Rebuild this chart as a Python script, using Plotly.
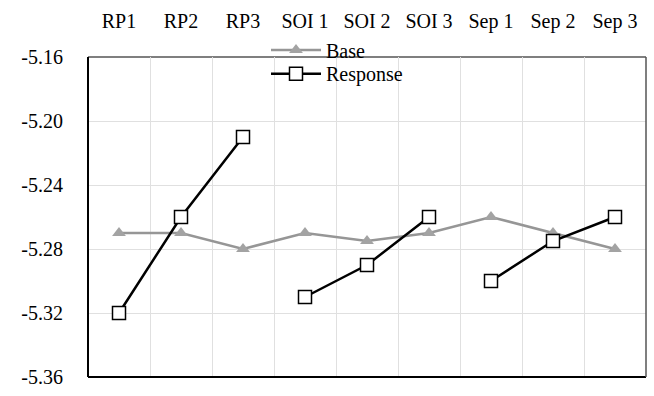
import plotly.graph_objects as go

categories = ["RP1", "RP2", "RP3", "SOI 1", "SOI 2", "SOI 3", "Sep 1", "Sep 2", "Sep 3"]
base_values = [-5.27, -5.27, -5.28, -5.27, -5.275, -5.27, -5.26, -5.27, -5.28]
response_values = [-5.32, -5.26, -5.21, -5.31, -5.29, -5.26, -5.30, -5.275, -5.26]
groups = [[0, 1, 2], [3, 4, 5], [6, 7, 8]]
y_ticks = [-5.36, -5.32, -5.28, -5.24, -5.20, -5.16]

FONT = "Liberation Serif"

# response drawn as broken segments per group
rx, ry = [], []
for gi, g in enumerate(groups):
    if gi > 0:
        rx.append(None)
        ry.append(None)
    for i in g:
        rx.append(i)
        ry.append(response_values[i])

fig = go.Figure()
fig.add_trace(go.Scatter(
    x=list(range(len(categories))), y=base_values, name="Base",
    mode="lines+markers", legend="legend",
    line=dict(color="#969696", width=2.5),
    marker=dict(symbol="triangle-up", size=12, color="#a3a3a3"),
))
fig.add_trace(go.Scatter(
    x=rx, y=ry, name="Response", mode="lines+markers", connectgaps=False,
    legend="legend2",
    line=dict(color="black", width=2.5),
    marker=dict(symbol="square", size=13, color="white", line=dict(color="black", width=1.5)),
))

leg_common = dict(xanchor="left", yanchor="middle", bgcolor="rgba(0,0,0,0)",
                  font=dict(family=FONT, size=20), itemwidth=50)

fig.update_layout(
    width=654, height=396,
    margin=dict(l=88, r=8, t=57, b=13),
    paper_bgcolor="white", plot_bgcolor="white",
    font=dict(family=FONT, size=20, color="black"),
    showlegend=True,
    legend=dict(x=0.319, y=1.022, **leg_common),
    legend2=dict(x=0.319, y=0.948, **leg_common),
    xaxis=dict(
        side="top", range=[-0.5, 8.5],
        tickmode="array", tickvals=list(range(len(categories))), ticktext=categories,
        showgrid=False, zeroline=False, ticks="", ticklabelstandoff=24,
        minor=dict(tickmode="array", tickvals=[i + 0.5 for i in range(len(categories) - 1)],
                   showgrid=True, gridcolor="#e0e0e0", gridwidth=1, ticks=""),
        showline=False, mirror=False,
    ),
    yaxis=dict(
        range=[-5.36, -5.16], tickmode="array", tickvals=y_ticks,
        ticktext=[f"{v:.2f}" for v in y_ticks],
        showgrid=True, gridcolor="#e0e0e0", gridwidth=1, zeroline=False,
        ticks="", ticklabelstandoff=24,
        showline=False,
    ),
)

# plot frame: left/bottom dark, top/right gray
fig.add_shape(type="line", xref="paper", yref="paper", x0=0, x1=0, y0=0, y1=1,
              line=dict(color="black", width=2))
fig.add_shape(type="line", xref="paper", yref="paper", x0=0, x1=1, y0=0, y1=0,
              line=dict(color="black", width=2))
fig.add_shape(type="line", xref="paper", yref="paper", x0=0, x1=1, y0=1, y1=1,
              line=dict(color="#555555", width=1.5), layer="below")
fig.add_shape(type="line", xref="paper", yref="paper", x0=1, x1=1, y0=0, y1=1,
              line=dict(color="#555555", width=1.5))

fig.write_html("out.html")
